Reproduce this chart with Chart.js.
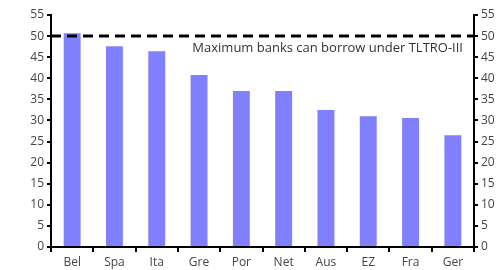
<!DOCTYPE html>
<html>
<head>
<meta charset="utf-8">
<script src="https://cdn.jsdelivr.net/npm/chart.js@4"></script>
<style>
  html, body { margin: 0; padding: 0; background: #fff; }
  #wrap { width: 504px; height: 270px; }
</style>
</head>
<body>
<div id="wrap"><canvas id="chart" width="504" height="270"></canvas></div>
<script>
var countries = ['Bel', 'Spa', 'Ita', 'Gre', 'Por', 'Net', 'Aus', 'EZ', 'Fra', 'Ger'];
var borrowing = [50.7, 47.6, 46.4, 40.8, 37.0, 37.0, 32.5, 31.0, 30.6, 26.5];
var maxLine = [50];
var maxLabel = 'Maximum banks can borrow under TLTRO-III';

// dashed reference line at the TLTRO-III maximum
var limitLine = {
  id: 'limitLine',
  afterDatasetsDraw: function(chart) {
    var ctx = chart.ctx;
    var area = chart.chartArea;
    var y = chart.scales.y.getPixelForValue(maxLine[0]);
    ctx.save();
    ctx.strokeStyle = '#000';
    ctx.lineWidth = 3;
    ctx.setLineDash([10, 6]);
    ctx.beginPath();
    ctx.moveTo(area.left, y);
    ctx.lineTo(area.right, y);
    ctx.stroke();
    ctx.setLineDash([]);
    ctx.fillStyle = '#333';
    ctx.font = '13px "Open Sans"';
    ctx.textAlign = 'right';
    ctx.textBaseline = 'middle';
    ctx.fillText(maxLabel, area.right - 11, y + 12);
    ctx.restore();
  }
};

var tickFont = { family: '"Open Sans"', size: 12 };

new Chart(document.getElementById('chart').getContext('2d'), {
  type: 'bar',
  data: {
    labels: countries,
    datasets: [{
      data: borrowing,
      backgroundColor: 'rgb(128, 128, 255)',
      borderWidth: 0,
      categoryPercentage: 1,
      barPercentage: 0.4
    }]
  },
  options: {
    responsive: false,
    animation: false,
    layout: { padding: { top: 15, left: 0, right: 0, bottom: 0 } },
    plugins: { legend: { display: false }, tooltip: { enabled: false } },
    scales: {
      x: {
        grid: { display: true, drawOnChartArea: false, offset: true, tickLength: 5, color: '#000', lineWidth: 2 },
        border: { display: true, color: '#000', width: 2 },
        ticks: { color: '#444', font: tickFont, padding: 3 },
        afterFit: function(s) { s.height = 23; }
      },
      y: {
        position: 'left',
        min: 0, max: 55,
        ticks: { stepSize: 5, color: '#444', font: tickFont, padding: 3 },
        grid: { drawOnChartArea: false, tickLength: 4, color: '#000', lineWidth: 2 },
        border: { display: true, color: '#000', width: 2 },
        afterFit: function(s) { s.width = 51; }
      },
      y2: {
        position: 'right',
        min: 0, max: 55,
        ticks: { stepSize: 5, color: '#444', font: tickFont, padding: 3 },
        grid: { drawOnChartArea: false, tickLength: 4, color: '#000', lineWidth: 2 },
        border: { display: true, color: '#000', width: 2 },
        afterFit: function(s) { s.width = 30; }
      }
    }
  },
  plugins: [limitLine]
});
</script>
</body>
</html>
